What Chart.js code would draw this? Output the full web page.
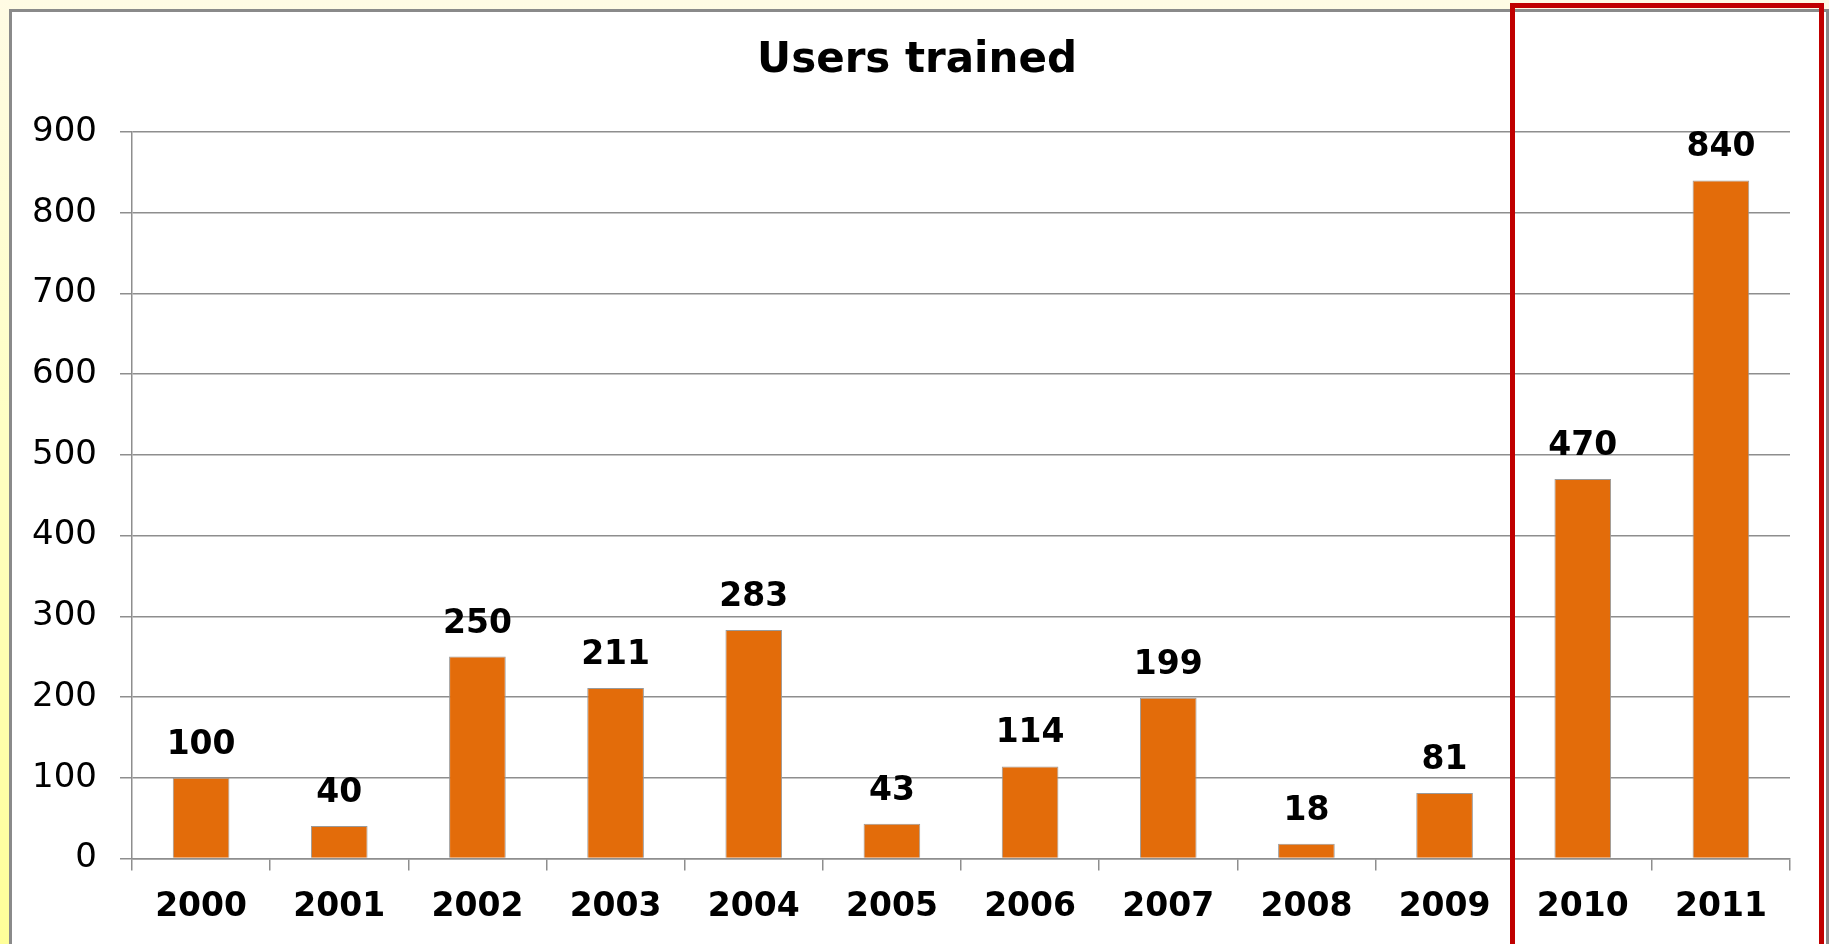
<!DOCTYPE html>
<html>
<head>
<meta charset="utf-8">
<script src="https://cdn.jsdelivr.net/npm/chart.js@4"></script>
<style>
  html, body { margin: 0; padding: 0; overflow: hidden; }
  body {
    width: 1829px; height: 944px;
    background: linear-gradient(#fffbe4, #ffffc4 45%, #ffff99);
    position: relative;
  }
  #frame {
    position: absolute; left: 9px; top: 9px;
    width: 1814px; height: 960px;
    border: 3px solid #8a8a8a; background: #fff;
  }
  #wrap { position: absolute; left: 0; top: 0; width: 1814px; height: 932px; }
  #highlight {
    position: absolute; left: 1510px; top: 3px;
    width: 304px; height: 980px;
    border: 5px solid #c00000;
  }
</style>
</head>
<body>
<div id="frame"><div id="wrap"><canvas id="chart"></canvas></div></div>
<div id="highlight"></div>
<script>
// ── Data ─────────────────────────────────────────────────
const chartTitle = "Users trained";
const years = ["2000", "2001", "2002", "2003", "2004", "2005",
               "2006", "2007", "2008", "2009", "2010", "2011"];
const usersTrained = [100, 40, 250, 211, 283, 43, 114, 199, 18, 81, 470, 840];
const yTicks = [0, 100, 200, 300, 400, 500, 600, 700, 800, 900];

const FONT = "'DejaVu Sans', Verdana, sans-serif";
const GRID = "#8e8e8e";

// title centred on the whole frame, value labels above each bar
const annotate = {
  id: "annotate",
  afterDatasetsDraw(chart) {
    const { ctx } = chart;
    const meta = chart.getDatasetMeta(0);
    ctx.save();
    ctx.fillStyle = "#000";
    ctx.textAlign = "center";
    ctx.textBaseline = "middle";
    ctx.font = `bold 42px ${FONT}`;
    ctx.fillText(chartTitle, chart.width / 2 - 2, 49);

    ctx.textBaseline = "alphabetic";
    ctx.font = `bold 33px ${FONT}`;
    meta.data.forEach((bar, i) => {
      ctx.fillText(String(usersTrained[i]), bar.x, bar.y - 24);
    });
    ctx.restore();
  },
};

new Chart(document.getElementById("chart"), {
  type: "bar",
  data: {
    labels: years,
    datasets: [{
      label: chartTitle,
      data: usersTrained,
      backgroundColor: "#e36c0a",
      borderColor: "#9a9a9a",
      borderWidth: 1,
      barPercentage: 0.41,
      categoryPercentage: 1,
    }],
  },
  options: {
    responsive: true,
    maintainAspectRatio: false,
    animation: false,
    layout: { padding: { left: 0, right: 36, top: 120, bottom: 0 } },
    plugins: {
      legend: { display: false },
      tooltip: { enabled: false },
      title: { display: false },
    },
    scales: {
      x: {
        grid: {
          offset: true,
          drawOnChartArea: false,
          drawTicks: true,
          tickLength: 12,
          color: GRID,
          lineWidth: 1.5,
        },
        border: { color: GRID, width: 1.5 },
        ticks: {
          color: "#000",
          padding: 17,
          maxRotation: 0,
          font: { family: FONT, size: 33, weight: "bold" },
        },
      },
      y: {
        min: 0,
        max: 900,
        afterFit(scale) { scale.width = 120; },
        afterBuildTicks(scale) { scale.ticks = yTicks.map((v) => ({ value: v })); },
        grid: { color: GRID, lineWidth: 1.5, tickLength: 12 },
        border: { color: GRID, width: 1.5 },
        ticks: {
          color: "#000",
          padding: 23,
          font: { family: FONT, size: 34 },
        },
      },
    },
  },
  plugins: [annotate],
});
</script>
</body>
</html>
